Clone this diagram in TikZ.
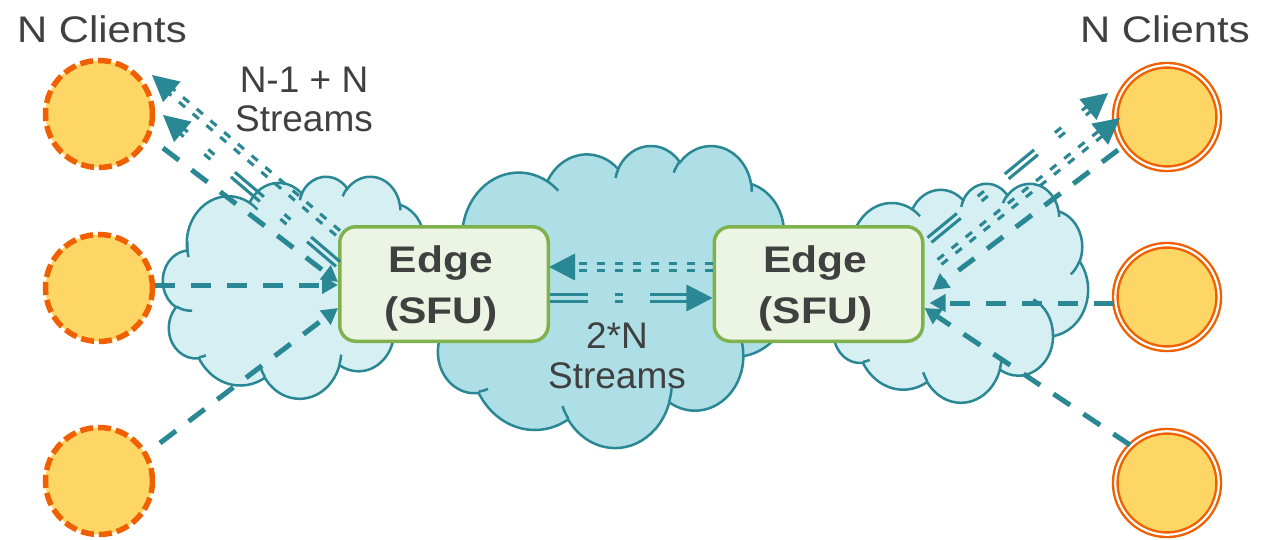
\documentclass[tikz,border=0pt]{standalone}
\usepackage{fontspec}
\setmainfont{Liberation Sans}
\newfontfamily\widefont[FakeStretch=1.13]{Liberation Sans}
\newfontfamily\boxfont[FakeStretch=1.15]{Liberation Sans}
\usetikzlibrary{arrows.meta,calc}

\definecolor{streamteal}{RGB}{42,135,148}
\definecolor{clientfill}{RGB}{254,214,102}
\definecolor{clientedge}{RGB}{240,96,0}
\definecolor{cloudlight}{RGB}{214,239,243}
\definecolor{clouddeep}{RGB}{174,223,230}
\definecolor{boxfill}{RGB}{236,244,228}
\definecolor{boxedge}{RGB}{127,178,77}
\definecolor{labelgray}{RGB}{64,64,64}

% elliptic arc given by radii and a start/sweep angle measured on the ray
\newcommand\ooarc[4]{arc[x radius=#1, y radius=#2,
  start angle={atan2((#1)*sin(#3),(#2)*cos(#3))},
  delta angle={mod(atan2((#1)*sin((#3)+(#4)),(#2)*cos((#3)+(#4)))-atan2((#1)*sin(#3),(#2)*cos(#3))+540,360)-180}]}

% cloud outline in a 432 x 432 frame: #1,#2 top-left, #3 width, #4 height, #5 fill
\newcommand\drawcloud[5]{%
\begin{scope}[shift={(#1,#2)}, xscale=#3/432, yscale=#4/432]
  \path[draw=streamteal, line width=2.5pt, fill=#5] (39.00,143.70)
    \ooarc{67.53}{91.90}{-190.4875}{123.7805}
    \ooarc{53.33}{72.67}{-144.1024}{89.9452}
    \ooarc{43.65}{59.45}{-145.8079}{99.7230}
    \ooarc{48.57}{65.95}{-130.9861}{117.2417}
    \ooarc{53.33}{72.73}{-78.7089}{109.0269}
    \ooarc{67.75}{92.20}{-46.2673}{130.2690}
    \ooarc{57.85}{78.67}{0.6250}{114.0333}
    \ooarc{67.52}{92.15}{22.4516}{115.1726}
    \ooarc{77.20}{105.43}{66.2426}{75.7110}
    \ooarc{43.60}{59.18}{-274.9421}{146.7356}
    \ooarc{43.45}{59.45}{-246.8285}{152.5189}
    -- cycle;
  \draw[streamteal, line width=2.5pt]
    (46.93,261.77) \ooarc{43.45}{59.45}{86.7420}{26.4295}
    (69.28,348.99) \ooarc{43.60}{59.18}{73.6105}{11.4475}
    (164.78,390.90) \ooarc{67.52}{92.15}{137.6242}{14.0811}
    (288.27,347.51) \ooarc{67.52}{92.15}{6.4533}{15.9984}
    (341.29,229.54) \ooarc{57.85}{78.67}{-70.2924}{70.9174}
    (417.98,153.54) \ooarc{53.33}{72.73}{30.3180}{27.7515}
    (383.24,54.26) \ooarc{48.57}{65.95}{-13.7443}{14.8589}
    (290.78,39.52) \ooarc{48.57}{65.95}{-149.1815}{18.1954}
    (221.41,47.20) \ooarc{43.65}{59.45}{-163.4943}{17.6864}
    (140.00,51.92) \ooarc{67.53}{91.90}{-66.7070}{12.3194}
    (41.27,157.89) \ooarc{67.53}{91.90}{161.3363}{26.0556};
\end{scope}}

% double-stranded stream arrow: #1 dash style, #2 start, #3 tip
\newcommand\twinarrow[3]{%
  \coordinate (twA) at (#2);
  \coordinate (twB) at (#3);
  \coordinate (twE) at ($(twB)!25pt!(twA)$);
  \draw[twinline,#1] ($(twA)!3.1pt!90:(twB)$) -- ($(twE)!3.1pt!90:(twB)$);
  \draw[twinline,#1] ($(twA)!3.1pt!-90:(twB)$) -- ($(twE)!3.1pt!-90:(twB)$);
  \fill[streamteal] (twB) -- ($(twB)!29.3pt!27.4:(twA)$) -- ($(twB)!29.3pt!-27.4:(twA)$) -- cycle;
}

\begin{document}
\begin{tikzpicture}[x=1pt,y=-1pt,
  client/.style={circle, fill=clientfill, inner sep=0pt},
  clientdash/.style={client, minimum size=107pt, draw=clientedge, line width=5.5pt, dash pattern=on 13pt off 5pt},
  clientring/.style={client, minimum size=103.5pt, draw=clientedge, line width=2.4pt, double=white, double distance=2.2pt},
  sfu/.style={rectangle, rounded corners=16pt, draw=boxedge, fill=boxfill, line width=3.5pt, minimum width=208.5pt, minimum height=114.5pt},
  lbl/.style={text=labelgray, font=\fontsize{37}{40}\selectfont, inner sep=0pt, anchor=base},
  boxlbl/.style={text=labelgray, font=\boxfont\bfseries\fontsize{37}{40}\selectfont, inner sep=0pt, anchor=base},
  media/.style={draw=streamteal, line width=5pt, dash pattern=on 20pt off 16pt, -{Triangle[length=16pt,width=17pt]}},
  twinline/.style={draw=streamteal, line width=3.1pt},
  shortdash/.style={dash pattern=on 8pt off 10pt},
  dashdot/.style={dash pattern=on 38pt off 27pt on 8pt off 27pt}
]
\useasboundingbox (0,0) rectangle (1279,540);

% clouds
\drawcloud{163}{176}{267}{222}{cloudlight}
\drawcloud{828}{183}{260}{219}{cloudlight}
\drawcloud{430}{145}{362}{302}{clouddeep}

\node[lbl] (midA) at (617,348) {2*N};
\node[lbl] (midB) at (617,388) {Streams};

% edge servers
\node[sfu] (boxL) at (444,284) {};
\node[sfu] (boxR) at (818.5,284) {};
\node[boxlbl] (boxLa) at (441,272) {Edge};
\node[boxlbl] (boxLb) at (441,323) {(SFU)};
\node[boxlbl] (boxRa) at (815.5,272) {Edge};
\node[boxlbl] (boxRb) at (815.5,323) {(SFU)};

% clients
\node[clientdash] (cL1) at (99,114) {};
\node[clientdash] (cL2) at (99,288) {};
\node[clientdash] (cL3) at (99,481) {};
\node[clientring] (cR1) at (1167,117) {};
\node[clientring] (cR2) at (1167,297) {};
\node[clientring] (cR3) at (1167,483) {};

% connector ends
\coordinate (l1a) at ($(cL1)+(64,34)$);
\coordinate (l1b) at ([yshift=2pt]boxL.west);
\coordinate (l2a) at ([yshift=51pt]boxL.west);
\coordinate (l2b) at ($(cL1)+(53,-39)$);
\coordinate (l3a) at ([yshift=20pt]boxL.west);
\coordinate (l3b) at ($(cL1)+(64,1)$);
\coordinate (l4b) at ([yshift=-1pt]boxL.west);
\coordinate (l5a) at ($(cL3)+(61,-38)$);
\coordinate (l5b) at ([yshift=-24pt]boxL.west);
\coordinate (m1a) at ([yshift=17pt]boxR.west);
\coordinate (m1b) at ([yshift=17pt,xshift=-1pt]boxL.east);
\coordinate (m2a) at ([yshift=-14pt]boxL.east);
\coordinate (m2b) at ([yshift=-14pt]boxR.west);
\coordinate (r1a) at ($(cR1)+(-49,33)$);
\coordinate (r1b) at ([xshift=8pt,yshift=-6pt]boxR.east);
\coordinate (r2a) at ([xshift=15pt,yshift=22pt]boxR.east);
\coordinate (r2b) at ($(cR1)+(-47,1)$);
\coordinate (r3a) at ([xshift=5pt,yshift=44pt]boxR.east);
\coordinate (r3b) at ($(cR1)+(-59,-24)$);
\coordinate (r4a) at ($(cR2.west)+(0,6)$);
\coordinate (r4b) at ([xshift=5pt,yshift=-19pt]boxR.east);
\coordinate (r5a) at ($(cR3)+(-37,-38)$);
\coordinate (r5b) at ([yshift=-24pt]boxR.east);

% uplink media from clients to the edges
\draw[media] (l1a) -- (l1b);
\draw[media] (cL2.east |- l4b) -- (l4b);
\draw[media] (l5a) -- (l5b);
\draw[media] (r1a) -- (r1b);
\draw[media] (r4a) -- (r4b);
\draw[media] (r5a) -- (r5b);

% forwarded streams
\twinarrow{shortdash}{l2a}{l2b}
\twinarrow{dashdot}{l3a}{l3b}
\twinarrow{shortdash}{m1a}{m1b}
\twinarrow{dashdot}{m2a}{m2b}
\twinarrow{shortdash}{r2a}{r2b}
\twinarrow{dashdot}{r3a}{r3b}

% labels
\node[lbl, font=\widefont\fontsize{37}{40}\selectfont] (ncL) at (102,43) {N Clients};
\node[lbl, font=\widefont\fontsize{37}{40}\selectfont] (ncR) at (1165,43) {N Clients};
\node[lbl] (upA) at (304,93) {N-1 + N};
\node[lbl] (upB) at (304,132) {Streams};
\end{tikzpicture}
\end{document}
